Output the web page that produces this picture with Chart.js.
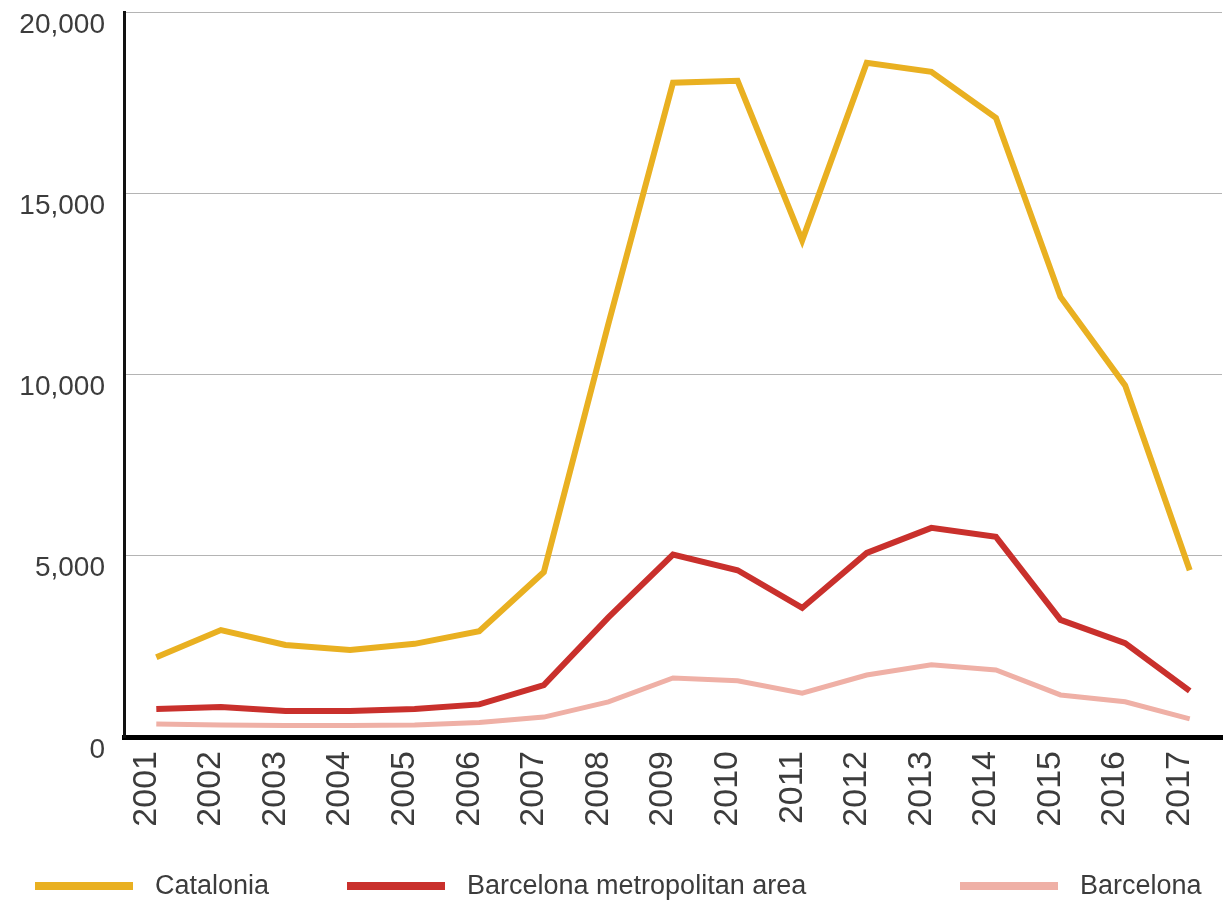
<!DOCTYPE html>
<html>
<head>
<meta charset="utf-8">
<title>Catalonia / Barcelona</title>
<script src="https://cdn.jsdelivr.net/npm/chart.js@4/dist/chart.umd.min.js"></script>
<style>
    body { margin: 0; background: #fff; }
    #wrap { position: relative; width: 1231px; height: 903px; }
    #legend {
        position: absolute; left: 0; right: 0; top: 870px; height: 30px;
        font-family: 'Liberation Sans', Arial, sans-serif; font-size: 27px; color: #3c3c3c;
    }
    #legend .item { position: absolute; top: 0; display: flex; align-items: center; }
    #legend .swatch { width: 98px; height: 8px; margin-right: 22px; }
</style>
</head>
<body>
<div id="wrap">
    <canvas id="myLineChart"></canvas>
    <div id="legend"></div>
</div>
<script>
// du lieu doc tu bieu do
var years = ["2001", "2002", "2003", "2004", "2005", "2006", "2007", "2008", "2009",
    "2010", "2011", "2012", "2013", "2014", "2015", "2016", "2017"];
var catalonia = [2200, 2950, 2540, 2400, 2570, 2920, 4550, 11400, 18050, 18100, 13700, 18600, 18350, 17080, 12140, 9700, 4600];
var metroArea = [770, 830, 720, 720, 770, 900, 1430, 3300, 5030, 4600, 3560, 5080, 5770, 5520, 3230, 2590, 1270];
var barcelona = [360, 330, 320, 320, 330, 400, 550, 970, 1630, 1550, 1210, 1710, 1990, 1850, 1160, 970, 500];
var yTicks = [0, 5000, 10000, 15000, 20000];

var textColor = '#3c3c3c';
Chart.defaults.font.family = "'Liberation Sans', Arial, sans-serif";
Chart.defaults.color = textColor;

var lineChart = {
    type: 'line',
    data: {
        labels: years,
        datasets: [
            { label: 'Catalonia', data: catalonia, borderColor: '#e9b021', borderWidth: 6 },
            { label: 'Barcelona metropolitan area', data: metroArea, borderColor: '#c9302c', borderWidth: 6 },
            { label: 'Barcelona', data: barcelona, borderColor: '#efb0a6', borderWidth: 5 }
        ]
    },
    options: {
        responsive: true,
        maintainAspectRatio: false,
        animation: false,
        layout: { padding: { left: 0, right: 9, top: 0, bottom: 53 } },
        elements: {
            point: { radius: 0 },
            line: { tension: 0, borderJoinStyle: 'miter', borderCapStyle: 'butt' }
        },
        plugins: { legend: { display: false }, tooltip: { enabled: false } },
        scales: {
            x: {
                offset: true,
                grid: { display: false, drawTicks: false },
                border: { display: true, color: '#000', width: 5 },
                ticks: { font: { size: 34 }, minRotation: 90, maxRotation: 90, padding: 14, labelOffset: -10, autoSkip: false },
                afterFit: function (scale) {
                    scale.height = 113;
                    scale.paddingLeft = 0;
                    scale.paddingRight = 0;
                }
            },
            y: {
                min: 0,
                max: 20000,
                grid: { color: '#b4b4b4', lineWidth: 1, drawTicks: false },
                border: { display: true, color: '#111', width: 3 },
                afterBuildTicks: function (scale) {
                    scale.ticks = yTicks.map(v => ({ value: v }));
                },
                ticks: {
                    font: { size: 28 }, padding: 19, labelOffset: 13,
                    callback: v => v.toLocaleString('en-US')
                },
                afterFit: function (scale) {
                    scale.width = 124;
                    scale.paddingTop = 12;
                    scale.paddingBottom = 0;
                }
            }
        }
    }
};

var chart = new Chart(document.getElementById('myLineChart'), lineChart);

// chu thich HTML lay tu datasets
var legendLeft = [35, 347, 960];
var legend = document.getElementById('legend');
chart.data.datasets.forEach((ds, i) => {
    var item = document.createElement('div');
    item.className = 'item';
    item.style.left = legendLeft[i] + 'px';
    item.innerHTML = '<span class="swatch" style="background:' + ds.borderColor + '"></span><span>' + ds.label + '</span>';
    legend.appendChild(item);
});
</script>
</body>
</html>
